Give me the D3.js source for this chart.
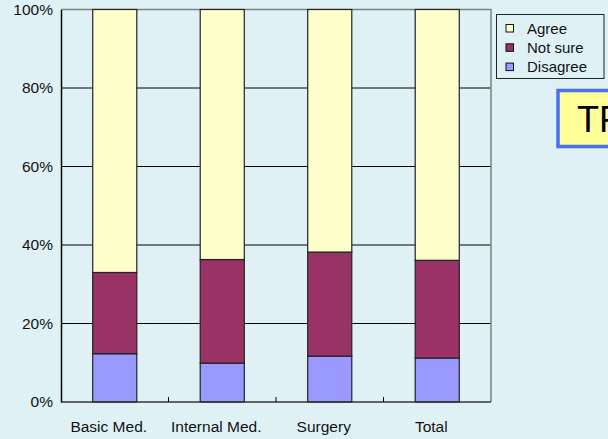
<!DOCTYPE html>
<html>
<head>
<meta charset="utf-8">
<script src="https://cdn.jsdelivr.net/npm/d3@7"></script>
<style>
  html, body { margin: 0; padding: 0; background: #dff1f5; }
  svg { display: block; font-family: "Liberation Sans", Arial, sans-serif; }
</style>
</head>
<body>
<svg width="608" height="439"></svg>
<script>
const categories = ['Basic Med.', 'Internal Med.', 'Surgery', 'Total'];
const disagree = [12.3, 9.9, 11.7, 11.2];
const notSure = [20.7, 26.4, 26.5, 24.9];
const agree = [67.0, 63.7, 61.8, 63.9];
const seriesNames = ['Disagree', 'Not sure', 'Agree'];
const yTicks = [0, 20, 40, 60, 80, 100];

const colors = {'Agree': '#ffffcc', 'Not sure': '#993366', 'Disagree': '#9999ff'};

const svg = d3.select('svg');
const [pLeft, pRight, pTop, pBottom] = [61, 491, 9.5, 402];

const rows = categories.map((c, i) => ({cat: c, 'Disagree': disagree[i], 'Not sure': notSure[i], 'Agree': agree[i]}));
const stacked = d3.stack().keys(seriesNames)(rows);

const x = d3.scaleBand()
    .domain(categories)
    .range([pLeft, pRight])
    .paddingInner(0.59)
    .paddingOuter(0.295);

const y = d3.scaleLinear()
    .domain([0, 100])
    .range([pBottom, pTop]);

// plot background
svg.append('rect')
    .attr('x', pLeft).attr('y', pTop)
    .attr('width', pRight - pLeft).attr('height', pBottom - pTop)
    .attr('fill', '#dff1f5');

// gridlines
svg.append('g')
    .selectAll('line')
    .data(yTicks.filter(t => t > 0 && t < 100))
    .enter()
    .append('line')
        .attr('x1', pLeft).attr('x2', pRight)
        .attr('y1', d => y(d)).attr('y2', d => y(d))
        .attr('stroke', '#000')
        .attr('stroke-width', 1);

// border top / right
svg.append('path')
    .attr('d', `M${pLeft},${y(100)}H${pRight}V${pBottom}`)
    .attr('fill', 'none')
    .attr('stroke', '#808080')
    .attr('stroke-width', 1.5);

// bars
svg.append('g')
    .selectAll('g')
    .data(stacked)
    .enter()
    .append('g')
        .attr('fill', d => colors[d.key])
    .selectAll('rect')
    .data(d => d)
    .enter()
    .append('rect')
        .attr('x', d => x(d.data.cat))
        .attr('y', d => y(d[1]))
        .attr('width', x.bandwidth())
        .attr('height', d => y(d[0]) - y(d[1]))
        .attr('stroke', '#222')
        .attr('stroke-width', 1.2);

// y axis
const yAxis = d3.axisLeft(y)
    .tickValues(yTicks)
    .tickSize(0)
    .tickPadding(8)
    .tickFormat(d => d + '%');

const gy = svg.append('g')
    .attr('transform', `translate(${pLeft},0)`)
    .call(yAxis);
gy.select('.domain').attr('stroke', '#000').attr('stroke-width', 1.5);
gy.selectAll('text')
    .attr('font-size', 15.5)
    .attr('font-family', '"Liberation Sans", Arial, sans-serif')
    .attr('fill', '#111');

// x axis line with ticks between categories
svg.append('line')
    .attr('x1', pLeft).attr('x2', pRight)
    .attr('y1', pBottom).attr('y2', pBottom)
    .attr('stroke', '#333')
    .attr('stroke-width', 1.5);

svg.append('g')
    .selectAll('line')
    .data(categories.slice(1))
    .enter()
    .append('line')
        .attr('x1', d => x(d) - x.step() * x.paddingInner() / 2)
        .attr('x2', d => x(d) - x.step() * x.paddingInner() / 2)
        .attr('y1', pBottom - 5).attr('y2', pBottom)
        .attr('stroke', '#000');

svg.append('g')
    .selectAll('text')
    .data(categories)
    .enter()
    .append('text')
        .attr('x', d => x(d) + x.bandwidth() / 2)
        .attr('dx', -6)
        .attr('y', 432)
        .attr('text-anchor', 'middle')
        .attr('font-size', 15.5)
        .attr('fill', '#111')
        .text(d => d);

// legend
const legend = svg.append('g');
legend.append('rect')
    .attr('x', 496.5).attr('y', 14.5)
    .attr('width', 107.5).attr('height', 64)
    .attr('fill', '#dff1f5')
    .attr('stroke', '#222');

const legendOrder = ['Agree', 'Not sure', 'Disagree'];
const li = legend.selectAll('g.item')
    .data(legendOrder)
    .enter()
    .append('g')
        .attr('transform', (d, i) => `translate(506,${28 + i * 19.3})`);
li.append('rect')
    .attr('x', 0).attr('y', -3.5)
    .attr('width', 7.5).attr('height', 7.5)
    .attr('fill', d => colors[d])
    .attr('stroke', '#111');
li.append('text')
    .attr('x', 21).attr('y', 5.5)
    .attr('font-size', 15)
    .attr('fill', '#111')
    .text(d => d);

// TR box (cut off at the right edge, as in the original slide)
svg.append('rect')
    .attr('x', 558).attr('y', 90.5)
    .attr('width', 60).attr('height', 56)
    .attr('fill', '#ffff99')
    .attr('stroke', '#4a70f0')
    .attr('stroke-width', 3.5);
svg.append('text')
    .attr('x', 577).attr('y', 132)
    .attr('font-size', 36)
    .attr('fill', '#000')
    .text('TR');
</script>
</body>
</html>
